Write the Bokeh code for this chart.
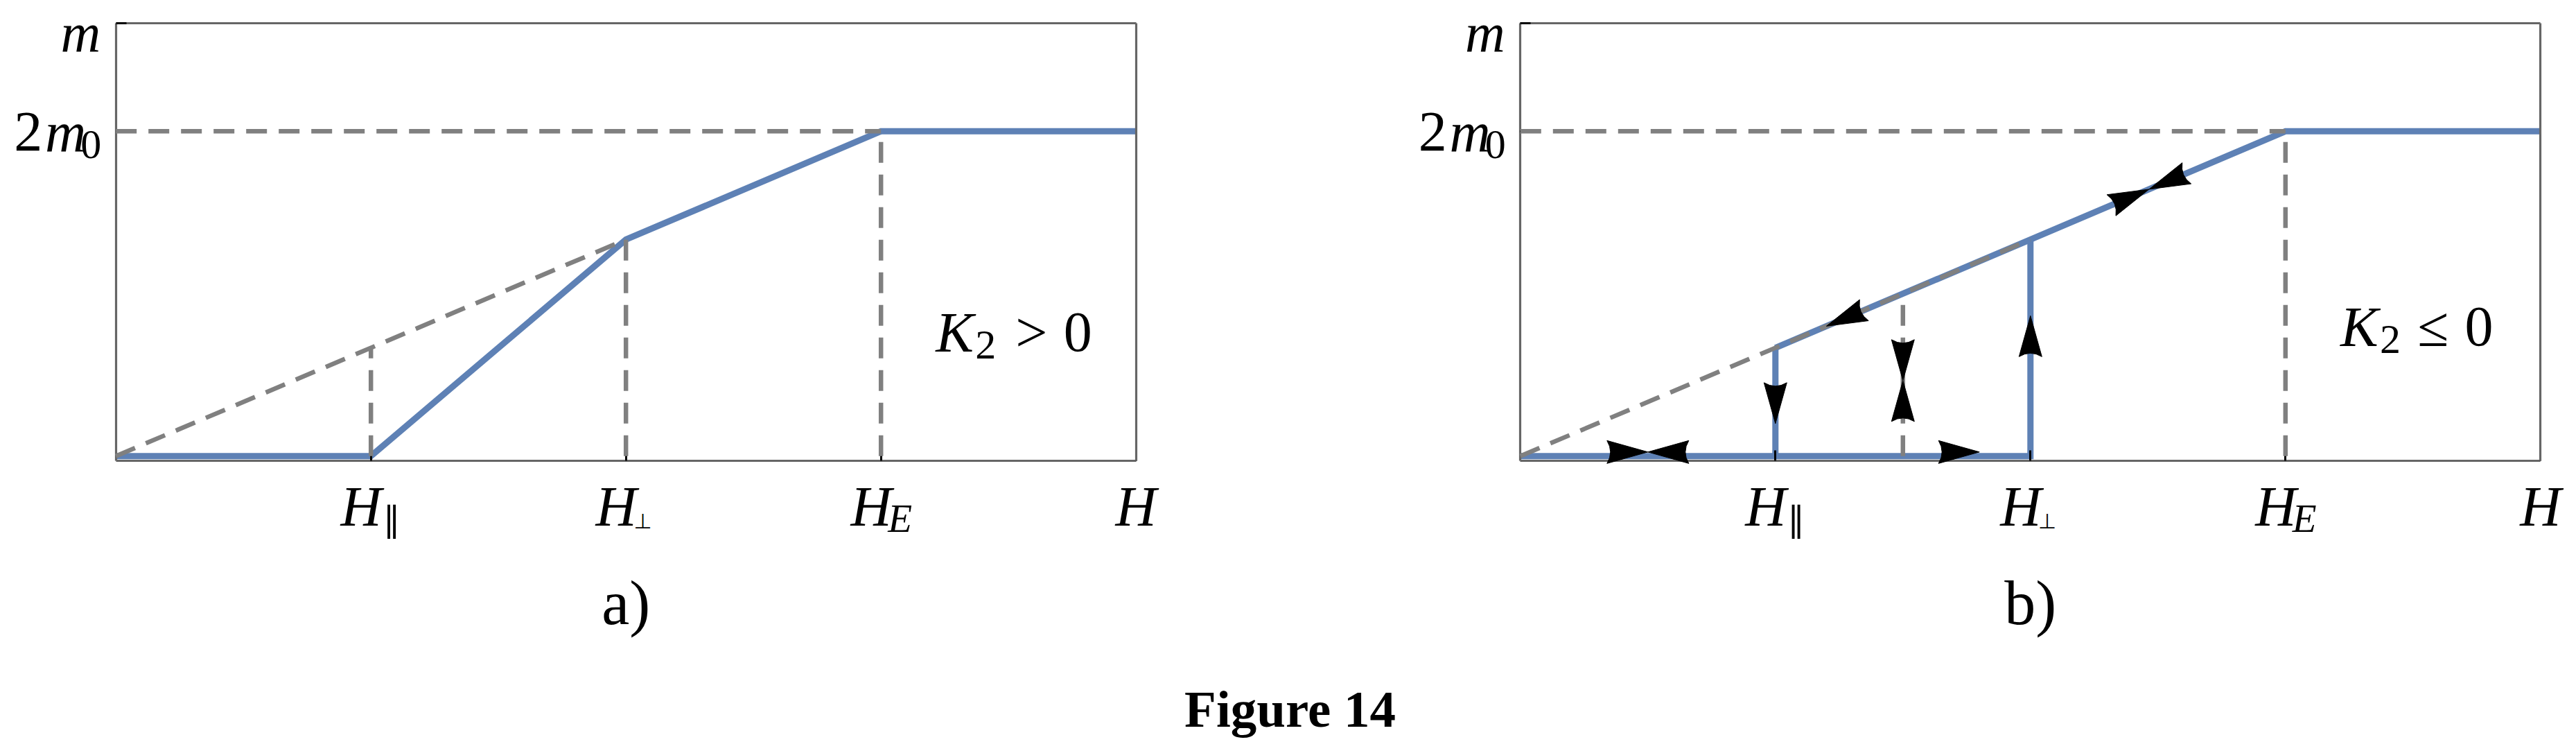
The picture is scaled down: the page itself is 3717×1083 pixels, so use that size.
from math import hypot
from collections import defaultdict
from bokeh.plotting import figure
from bokeh.models import FixedTicker, CustomJSTickFormatter, Range1d, LinearAxis
from bokeh.core.properties import value
from bokeh.embed import file_html
from bokeh.resources import INLINE

# ---------------- data ----------------
H_TICKS = [1, 2, 3, 4]            # H_par, H_perp, H_E, H
H_MAIN = ["H", "H", "H", "H"]
H_SUB = ["∥", "⊥", "E", ""]
M_TICKS = [2, 8 / 3]              # 2m0, m

X_MIN, X_MAX = 0, 4
Y_MIN, Y_MAX = -0.028, 8 / 3

# panel a
A_BLUE_X = [0, 1, 2, 3, 4]
A_BLUE_Y = [0, 0, 4 / 3, 2, 2]
A_DASH_XS = [[0, 2], [0, 3], [1, 1], [2, 2], [3, 3]]
A_DASH_YS = [[0, 4 / 3], [2, 2], [0, 2 / 3], [0, 4 / 3], [0, 2]]

# panel b
B_BLUE_XS = [[0, 2, 2], [1, 1], [1, 3, 4]]
B_BLUE_YS = [[0, 0, 4 / 3], [0, 2 / 3], [2 / 3, 2, 2]]
B_DASH_XS = [[0, 2], [0, 3], [1.5, 1.5], [3, 3]]
B_DASH_YS = [[0, 4 / 3], [2, 2], [0, 1], [0, 2]]

# arrow heads of panel b: tip position and pointing direction (data units)
B_ARROW_X = [0.50, 0.50, 1.80, 1.0, 1.5, 1.5, 2.0, 1.20, 2.465, 2.465]
B_ARROW_Y = [0.025, 0.025, 0.025, 0.20, 0.465, 0.465, 0.864, 0.80, 1.643, 1.643]
B_ARROW_DX = [1, -1, 1, 0, 0, 0, 0, -3, 3, -3]
B_ARROW_DY = [0, 0, 0, -1, -1, 1, 1, -2, 2, -2]

K_TEXT_A = ["K", "2", ">", "0"]
K_TEXT_B = ["K", "2", "≤", "0"]
CAPTIONS = ["a)", "b)"]
FIG_TITLE = "Figure 14"

# ---------------- styling / layout ----------------
BLUE = "#5E81B5"
GRAY = "#808080"
FRAME = "#666666"
SERIF = "Liberation Serif"
MAIN_FS = 82
SUB_FS = 60
BASELINE_FIX = 0.32               # renderer places glyph centre near the anchor

W, H = 3712, 1080                 # canvas
X0_PX, Y0_PX = 166.7, 657.2       # pixel position of data (0, 0) of panel a
PX_X, PX_Y = 368.0, 234.19        # pixels per data unit
B_SHIFT = (2193.3 - X0_PX) / PX_X  # panel b origin, in data units

p = figure(width=W, height=H, title=None,
           x_range=Range1d(-X0_PX / PX_X, (W - X0_PX) / PX_X),
           y_range=Range1d((Y0_PX - H) / PX_Y, Y0_PX / PX_Y),
           x_axis_type=None, y_axis_type=None,
           output_backend="svg", toolbar_location=None, min_border=0)
p.grid.visible = False
p.outline_line_color = None
p.background_fill_color = "white"
p.border_fill_color = "white"

texts = defaultdict(lambda: ([], [], []))


def put(x, y, text, dx, dy, size, style="normal", align="left", font=SERIF):
    """x, y in data units; dx, dy pixel nudges of the baseline (dy positive = down)."""
    xs, ys, ts = texts[(font, size, style, align)]
    xs.append(x + dx / PX_X)
    ys.append(y - (dy - BASELINE_FIX * size) / PX_Y)
    ts.append(text)


def frame_axes(shift):
    specs = [("below", Y_MIN, (shift + X_MIN, shift + X_MAX), [shift + t for t in H_TICKS]),
             ("above", Y_MAX, (shift + X_MIN, shift + X_MAX), []),
             ("left", shift + X_MIN, (Y_MIN, Y_MAX), M_TICKS),
             ("right", shift + X_MAX, (Y_MIN, Y_MAX), [])]
    for side, loc, bounds, ticks in specs:
        ax = LinearAxis(fixed_location=loc, bounds=bounds,
                        ticker=FixedTicker(ticks=ticks, minor_ticks=[]),
                        formatter=CustomJSTickFormatter(code="return ''"),
                        axis_line_color=FRAME, axis_line_width=3.2,
                        major_tick_in=15, major_tick_out=0,
                        major_tick_line_color="black", major_tick_line_width=3,
                        minor_tick_line_color=None, major_label_text_font_size="1px")
        p.add_layout(ax, side)


def tick_labels(shift):
    for t, m, s in zip(H_TICKS, H_MAIN, H_SUB):
        x = shift + t
        put(x, 0, m, -14 if s else 0, 99, MAIN_FS, "italic", "center")
        if s == "∥":
            put(x, 0, s, 17, 107, 50, "normal", "left", "DejaVu Sans")
        elif s == "⊥":
            put(x, 0, s, 11, 103, 30, "normal", "left", "DejaVu Sans")
        elif s:
            put(x, 0, s, 10, 108, 57, "italic", "left")
    put(shift, M_TICKS[1], "m", -22, 39.6, 80, "italic", "right")
    put(shift, M_TICKS[0], "2", -106, 27.4, MAIN_FS, "normal", "right")
    put(shift, M_TICKS[0], "m", -43, 27.4, MAIN_FS, "italic", "right")
    put(shift, M_TICKS[0], "0", -21, 38.4, SUB_FS, "normal", "right")


def k_label(shift, y, t, op_dx, zero_dx):
    x = shift + 3.215
    put(x, y, t[0], 0, 0, MAIN_FS, "italic", "left")
    put(x, y, t[1], 57, 11, SUB_FS, "normal", "left")
    put(x, y, t[2], op_dx, 0, MAIN_FS, "normal", "center")
    put(x, y, t[3], zero_dx, 0, MAIN_FS, "normal", "center")


def arrow_poly(xt, yt, dx, dy, L=59.0, Wd=33.0, notch=5.0):
    ux, uy = dx * PX_X, dy * PX_Y
    n = hypot(ux, uy)
    ux, uy = ux / n, uy / n
    nx, ny = -uy, ux
    pts = [(0.0, 0.0)]
    for t in (1.0, 0.5, 0.0, -0.5, -1.0):
        a = -(L - notch * (1 - t * t))
        lat = t * Wd / 2
        pts.append((a * ux + lat * nx, a * uy + lat * ny))
    return ([xt + px / PX_X for px, _ in pts], [yt + py / PX_Y for _, py in pts])


def sh(xss, s):
    return [[x + s for x in xs] for xs in xss]


# ---------- panel a ----------
p.line(A_BLUE_X, A_BLUE_Y, line_color=BLUE, line_width=9, line_join="miter")
frame_axes(0)
p.multi_line(A_DASH_XS, A_DASH_YS, line_color=GRAY, line_width=6.5,
             line_dash="30 17", level="overlay")
tick_labels(0)
k_label(0, 0.650, K_TEXT_A, 138, 205)
put(2, 0, CAPTIONS[0], 0, 241, 90, "normal", "center")

# ---------- panel b ----------
p.multi_line(sh(B_BLUE_XS, B_SHIFT), B_BLUE_YS, line_color=BLUE, line_width=9, line_join="miter")
frame_axes(B_SHIFT)
p.multi_line(sh(B_DASH_XS, B_SHIFT), B_DASH_YS, line_color=GRAY, line_width=6.5,
             line_dash="30 17", level="overlay")
axs, ays = [], []
for xt, yt, dx, dy in zip(B_ARROW_X, B_ARROW_Y, B_ARROW_DX, B_ARROW_DY):
    xs, ys = arrow_poly(B_SHIFT + xt, yt, dx, dy)
    axs.append(xs)
    ays.append(ys)
p.patches(axs, ays, fill_color="black", line_color="black", line_width=1, level="overlay")
tick_labels(B_SHIFT)
k_label(B_SHIFT, 0.684, K_TEXT_B, 134, 200)
put(B_SHIFT + 2, 0, CAPTIONS[1], 0, 241, 90, "normal", "center")

# ---------- figure caption (page pixel position converted to data) ----------
put((1861 - X0_PX) / PX_X, (Y0_PX - 1046) / PX_Y, FIG_TITLE, 0, 0, 75, "bold", "center")

for (font, size, style, align), (xs, ys, ts) in texts.items():
    p.text(x=xs, y=ys, text=ts, text_font=value(font), text_font_size=f"{size}px",
           text_font_style=style, text_align=align, text_baseline="alphabetic",
           text_color="black")

open("out.html", "w").write(file_html(p, INLINE))
